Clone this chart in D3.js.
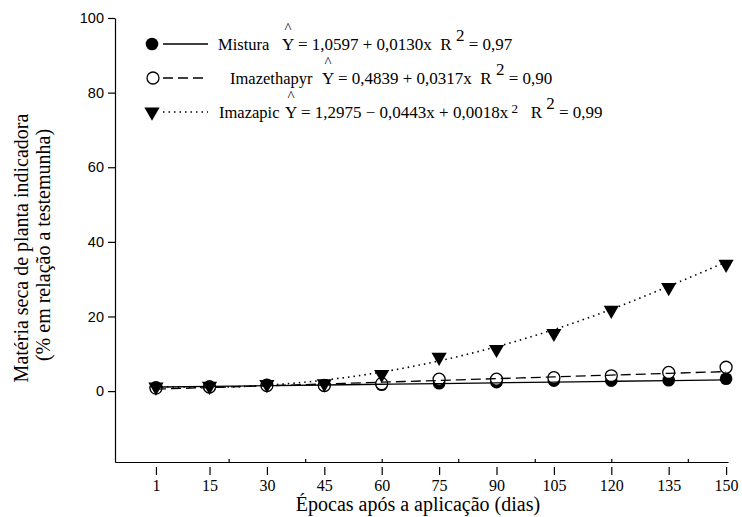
<!DOCTYPE html>
<html>
<head>
<meta charset="utf-8">
<script src="https://cdn.jsdelivr.net/npm/d3@7"></script>
<style>
    body { margin: 0; background: #fff; }
    text { white-space: pre; }
</style>
</head>
<body>
<div id="the_chart"></div>
<script>
// epochs after application (days)
var epocas = [1, 15, 30, 45, 60, 75, 90, 105, 120, 135, 150];

// observed points (% of control)
var mistura = [1.0, 1.2, 1.7, 1.5, 1.7, 2.1, 2.4, 2.8, 2.8, 2.9, 3.3];
var imazethapyr = [0.8, 1.1, 1.5, 1.5, 2.0, 3.2, 3.2, 3.6, 4.1, 5.0, 6.4];
var imazapic = [1.1, 1.3, 1.8, 2.0, 4.5, 9.1, 11.2, 15.5, 21.7, 27.8, 34.0];

// fitted lines at each epoch
var fitMistura = [1.07, 1.25, 1.45, 1.64, 1.84, 2.03, 2.23, 2.42, 2.62, 2.81, 3.0];
var fitImazethapyr = [0.52, 0.96, 1.43, 1.91, 2.39, 2.86, 3.34, 3.81, 4.29, 4.76, 5.24];
var fitImazapic = [1.25, 1.04, 1.59, 2.95, 5.1, 8.1, 11.9, 16.5, 21.9, 28.1, 34.6];

var yTicks = [0, 20, 40, 60, 80, 100];
var xMinorTicks = [20, 40, 60, 80, 100, 120, 140];

var legendNames = ["Mistura", "Imazethapyr", "Imazapic"];
var legendEq = [" = 1,0597 + 0,0130x", " = 0,4839 + 0,0317x", " = 1,2975 \u2212 0,0443x + 0,0018x"];
var legendR2 = ["0,97", "0,90", "0,99"];

var w = 742;
var h = 517;

var svg = d3.select("#the_chart")
    .append("svg")
    .attr("width", w)
    .attr("height", h);

var xscale = d3.scaleLinear()
    .domain([-9.7, 150.5])
    .range([115, 728]);
var yscale = d3.scaleLinear()
    .domain([-19, 100])
    .range([462, 18]);

var serif = "'Liberation Serif', 'Times New Roman', serif";
var sans = "'Liberation Sans', Arial, sans-serif";

// y axis
var yaxis = d3.axisLeft(yscale)
    .tickValues(yTicks)
    .tickSizeInner(7)
    .tickSizeOuter(0)
    .tickPadding(4);
var gy = svg.append("g")
    .attr("transform", "translate(115,0)")
    .call(yaxis);
gy.selectAll("text").style("font-family", sans).style("font-size", "14.5px").attr("fill", "#000");

// x axis line with small inner ticks
var xline = d3.axisBottom(xscale)
    .tickValues(xMinorTicks)
    .tickSizeInner(-3)
    .tickSizeOuter(0)
    .tickFormat("");
svg.append("g")
    .attr("transform", "translate(0,462)")
    .call(xline);

// x axis labels, ticks detached from the line
var xaxis = d3.axisBottom(xscale)
    .tickValues(epocas)
    .tickSizeInner(8)
    .tickSizeOuter(0)
    .tickPadding(5)
    .tickFormat(d3.format("d"));
var gx = svg.append("g")
    .attr("transform", "translate(0,467)")
    .call(xaxis);
gx.select(".domain").remove();
gx.selectAll("text").style("font-family", serif).style("font-size", "16px").attr("fill", "#000");

svg.selectAll(".domain, .tick line").attr("stroke", "#000").attr("stroke-width", 1.2);

// axis titles
svg.append("text")
    .attr("x", 418).attr("y", 511)
    .attr("text-anchor", "middle")
    .style("font-family", serif).style("font-size", "20px")
    .text("Épocas após a aplicação (dias)");

svg.append("text")
    .attr("transform", "translate(28,248) rotate(-90)")
    .attr("text-anchor", "middle")
    .style("font-family", serif).style("font-size", "20px")
    .text("Matéria seca de planta indicadora");
svg.append("text")
    .attr("transform", "translate(50,245) rotate(-90)")
    .attr("text-anchor", "middle")
    .style("font-family", serif).style("font-size", "20px")
    .text("(% em relação a testemunha)");

var tri = d3.symbol().type(d3.symbolTriangle).size(100);

// markers
svg.selectAll(".pMis")
    .data(mistura)
    .enter().append("circle")
    .attr("cx", function (d, i) { return xscale(epocas[i]); })
    .attr("cy", function (d) { return yscale(d); })
    .attr("r", 6.3)
    .attr("fill", "#000");

svg.selectAll(".pImt")
    .data(imazethapyr)
    .enter().append("circle")
    .attr("cx", function (d, i) { return xscale(epocas[i]); })
    .attr("cy", function (d) { return yscale(d); })
    .attr("r", 6)
    .attr("fill", "#fff")
    .attr("stroke", "#000")
    .attr("stroke-width", 1.3);

svg.selectAll(".pImp")
    .data(imazapic)
    .enter().append("path")
    .attr("d", tri)
    .attr("transform", function (d, i) {
        return "translate(" + xscale(epocas[i]) + "," + yscale(d) + ") rotate(180)";
    })
    .attr("fill", "#000");

// fitted lines
function fitLine(vals) {
    return d3.line()
        .x(function (d, i) { return xscale(epocas[i]); })
        .y(function (d) { return yscale(d); })
        .curve(d3.curveMonotoneX)(vals);
}
svg.append("path").attr("d", fitLine(fitMistura))
    .attr("fill", "none").attr("stroke", "#000").attr("stroke-width", 1.3);
svg.append("path").attr("d", fitLine(fitImazethapyr))
    .attr("fill", "none").attr("stroke", "#000").attr("stroke-width", 1.3)
    .attr("stroke-dasharray", "10,5");
svg.append("path").attr("d", fitLine(fitImazapic))
    .attr("fill", "none").attr("stroke", "#000").attr("stroke-width", 1.6)
    .attr("stroke-dasharray", "1.5,4");

// legend
var rowY = [50, 84, 118];
var labelX = [218, 230, 219];
var eqX = [282, 322, 285];
var dashes = [null, "10,5", "1.5,4"];

legendNames.forEach(function (name, i) {
    var y = rowY[i];
    if (i == 0) {
        svg.append("circle").attr("cx", 152).attr("cy", y - 6).attr("r", 6.3).attr("fill", "#000");
    } else if (i == 1) {
        svg.append("circle").attr("cx", 153).attr("cy", y - 6).attr("r", 6)
            .attr("fill", "#fff").attr("stroke", "#000").attr("stroke-width", 1.3);
    } else {
        svg.append("path").attr("d", tri)
            .attr("transform", "translate(152," + (y - 6) + ") rotate(180)")
            .attr("fill", "#000");
    }
    svg.append("line")
        .attr("x1", 163).attr("x2", 208)
        .attr("y1", y - 6).attr("y2", y - 6)
        .attr("stroke", "#000").attr("stroke-width", i == 2 ? 1.4 : 1.3)
        .attr("stroke-dasharray", dashes[i]);

    svg.append("text")
        .attr("x", labelX[i]).attr("y", y)
        .style("font-family", serif).style("font-size", "16.5px")
        .text(name);

    // hat over Y
    svg.append("text")
        .attr("x", eqX[i] + 6).attr("y", y - 17)
        .attr("text-anchor", "middle")
        .style("font-family", serif).style("font-size", "15px")
        .text("^");

    var t = svg.append("text")
        .attr("x", eqX[i]).attr("y", y)
        .style("font-family", serif).style("font-size", "17px");
    t.append("tspan").text("Y" + legendEq[i]);
    if (i == 2) {
        t.append("tspan").attr("dy", -5).style("font-size", "13px").text(" 2");
        t.append("tspan").attr("dy", 5).text("   R");
    } else {
        t.append("tspan").text("  R");
    }
    t.append("tspan").attr("dy", -9).text(" 2");
    t.append("tspan").attr("dy", 9).text(" = " + legendR2[i]);
});
</script>
</body>
</html>
